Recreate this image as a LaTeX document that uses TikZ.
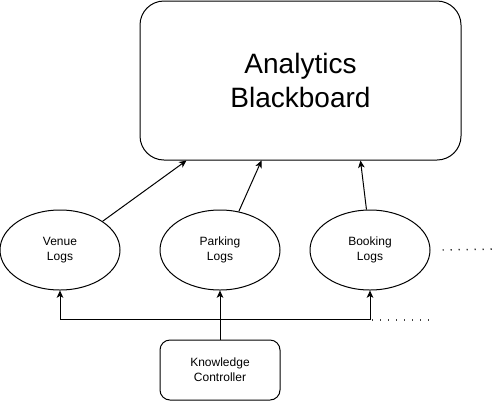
\documentclass[tikz,border=0pt]{standalone}
\usepackage{fontspec}
\setmainfont{Liberation Sans}
\usepackage{tikz}
\usetikzlibrary{shapes.geometric,arrows.meta}

\tikzset{
  board/.style={draw, rounded corners=18pt, minimum width=240.75pt, minimum height=119.25pt, inner sep=0pt, align=center, font=\fontsize{21}{25.5}\selectfont},
  logs/.style={draw, ellipse, minimum width=90pt, minimum height=60pt, inner sep=0pt, align=center, font=\fontsize{9}{11.25}\selectfont},
  ctrlbox/.style={draw, rounded corners=7.5pt, minimum width=90pt, minimum height=45pt, inner sep=0pt, align=center, font=\fontsize{9}{11.25}\selectfont},
  more/.style={draw=black!75, line width=1.1pt, dash pattern=on 1.1pt off 4.9pt}
}

\begin{document}
\begin{tikzpicture}[x=0.75pt,y=-0.75pt,line width=0.75pt,>={Stealth[length=5.5pt,width=5pt,inset=1.5pt]}]
\useasboundingbox (0,0) rectangle (503,401);
% blackboard and the log sources
\node[board] (board) at (300.5,80.5) {Analytics\\Blackboard};
\node[logs] (venue) at (60,250) {Venue\\Logs};
\node[logs] (park) at (220,250) {Parking\\Logs};
\node[logs] (book) at (370,250) {Booking\\Logs};
\node[ctrlbox] (ctrl) at (220,370) {Knowledge\\Controller};
\coordinate (moreA) at (498,249);
\coordinate (moreB) at (430,320);
% logs feed the blackboard
\draw[->] (venue.34) -- ([xshift=35.25pt]board.south west);
\draw[->] (park.64.7) -- ([xshift=91.5pt]board.south west);
\draw[->] (book.95.7) -- ([xshift=165.75pt]board.south west);
% controller reaches every log
\draw[->] (ctrl.north) -- (park.south);
\draw[->] (ctrl.north) -- ++(0,-20) -| (venue.south);
\draw[->] (ctrl.north) -- ++(0,-20) -| (book.south);
\draw[more] ([xshift=9pt]book.east) -- (moreA);
\draw[more] ([xshift=1.5pt]book.south |- moreB) -- (moreB);
\end{tikzpicture}
\end{document}
